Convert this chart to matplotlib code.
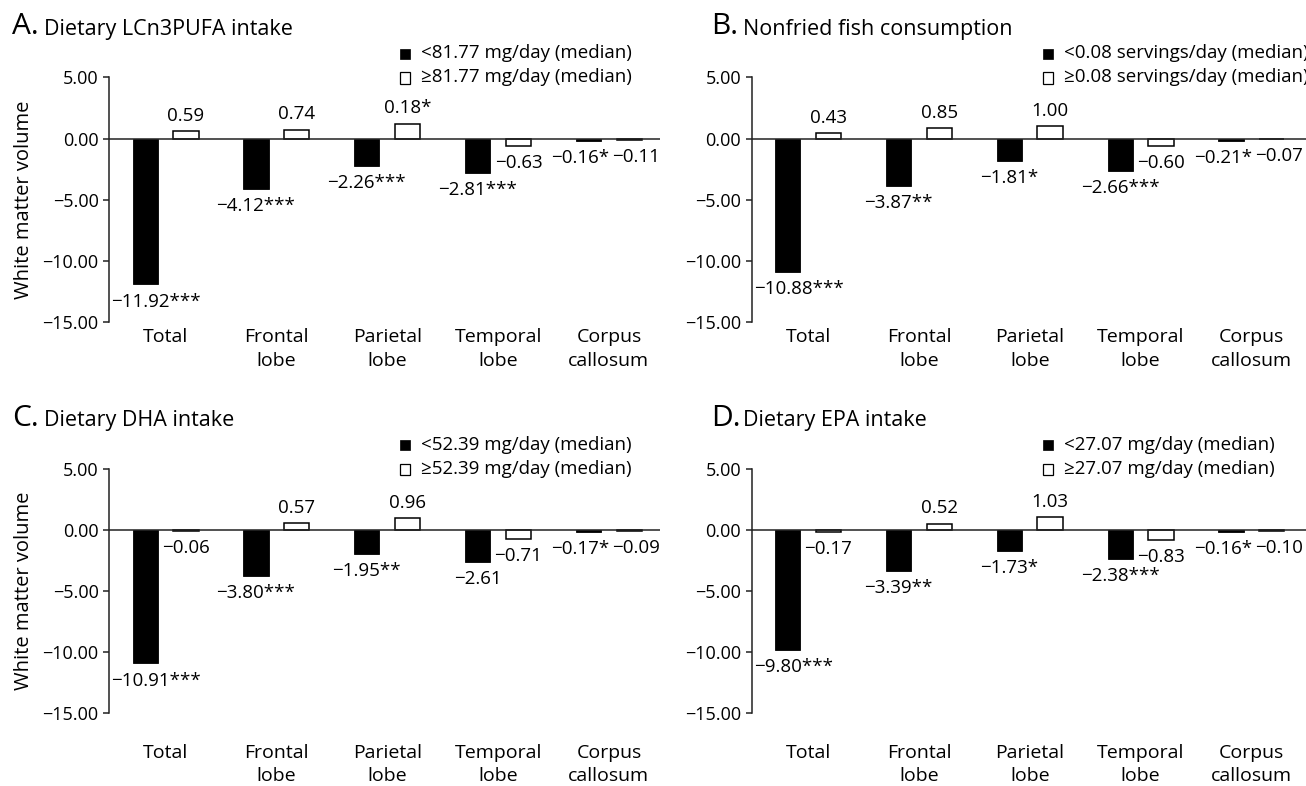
import matplotlib
matplotlib.use("Agg")
import matplotlib.pyplot as plt
from matplotlib.patches import Rectangle
import numpy as np

plt.rcParams["font.family"] = ["Open Sans", "DejaVu Sans"]

W, H, DPI = 1306, 786, 100

# ---------------- data ----------------
categories = ["Total", "Frontal\nlobe", "Parietal\nlobe", "Temporal\nlobe", "Corpus\ncallosum"]
y_ticks = [5, 0, -5, -10, -15]
y_tick_labels = ["5.00", "0.00", "\u22125.00", "\u221210.00", "\u221215.00"]

a_letter, a_title = "A.", "Dietary LCn3PUFA intake"
a_low = [-11.92, -4.12, -2.26, -2.81, -0.16]
a_high = [0.59, 0.74, 1.20, -0.63, -0.11]
a_low_labels = ["\u221211.92***", "\u22124.12***", "\u22122.26***", "\u22122.81***", "\u22120.16*"]
a_high_labels = ["0.59", "0.74", "0.18*", "\u22120.63", "\u22120.11"]
a_legend = ["<81.77 mg/day (median)", "\u226581.77 mg/day (median)"]

b_letter, b_title = "B.", "Nonfried fish consumption"
b_low = [-10.88, -3.87, -1.81, -2.66, -0.21]
b_high = [0.43, 0.85, 1.00, -0.60, -0.07]
b_low_labels = ["\u221210.88***", "\u22123.87**", "\u22121.81*", "\u22122.66***", "\u22120.21*"]
b_high_labels = ["0.43", "0.85", "1.00", "\u22120.60", "\u22120.07"]
b_legend = ["<0.08 servings/day (median)", "\u22650.08 servings/day (median)"]

c_letter, c_title = "C.", "Dietary DHA intake"
c_low = [-10.91, -3.80, -1.95, -2.61, -0.17]
c_high = [-0.06, 0.57, 0.96, -0.71, -0.09]
c_low_labels = ["\u221210.91***", "\u22123.80***", "\u22121.95**", "\u22122.61", "\u22120.17*"]
c_high_labels = ["\u22120.06", "0.57", "0.96", "\u22120.71", "\u22120.09"]
c_legend = ["<52.39 mg/day (median)", "\u226552.39 mg/day (median)"]

d_letter, d_title = "D.", "Dietary EPA intake"
d_low = [-9.80, -3.39, -1.73, -2.38, -0.16]
d_high = [-0.17, 0.52, 1.03, -0.83, -0.10]
d_low_labels = ["\u22129.80***", "\u22123.39**", "\u22121.73*", "\u22122.38***", "\u22120.16*"]
d_high_labels = ["\u22120.17", "0.52", "1.03", "\u22120.83", "\u22120.10"]
d_legend = ["<27.07 mg/day (median)", "\u226527.07 mg/day (median)"]

ylabel = "White matter volume"

# ---------------- layout helpers ----------------
fig = plt.figure(figsize=(W / DPI, H / DPI), dpi=DPI)
PT = 72.0 / DPI  # points per pixel


def fx(x):
    return x / W


def fy(y):
    return 1 - y / H


PXU = 110.85          # pixels per category unit
XL = -0.51
OFF, BW = 0.184, 0.228
FS_VAL = 13.5
FS_CAT = 14
FS_TICK = 13
FS_LEG = 13.5


def panel(left, right, top, bottom, title_x, letter, title, low, high, low_lab, high_lab,
          legend, xpad_px, lsp, show_ylabel):
    width = right - left
    xr = XL + width / PXU
    ax = fig.add_axes([fx(left), fy(bottom), width / W, (bottom - top) / H])
    x = np.arange(len(categories))
    ax.bar(x - OFF, low, width=BW, color="black", edgecolor="black", linewidth=0.6)
    ax.bar(x + OFF, high, width=BW, color="white", edgecolor="black", linewidth=1.1)
    ax.axhline(0, color="#222222", linewidth=1.1)
    ax.set_xlim(XL, xr)
    ax.set_ylim(-15, 5)
    for s in ("top", "right", "bottom"):
        ax.spines[s].set_visible(False)
    ax.spines["left"].set_linewidth(1.1)
    ax.spines["left"].set_color("#222222")
    ax.set_yticks(y_ticks)
    ax.set_yticklabels(y_tick_labels, fontsize=FS_TICK)
    ax.tick_params(axis="y", length=6 * PT, width=1.1, pad=4.5 * PT, color="#222222")
    ax.set_xticks(x)
    ax.set_xticklabels(categories, fontsize=FS_CAT)
    for t in ax.get_xticklabels():
        t.set_linespacing(lsp)
    ax.tick_params(axis="x", length=0, pad=xpad_px * PT)

    n = len(categories)
    for series, labs, sign in ((low, low_lab, -1), (high, high_lab, 1)):
        for i, (v, lab) in enumerate(zip(series, labs)):
            xpos = i + sign * OFF
            dx = 0
            if i == n - 1:
                dx = -8 if sign < 0 else 7
            if v >= 0:
                ax.annotate(lab, (xpos, v), xytext=(dx * PT, 10.5 * PT),
                            textcoords="offset points", ha="center", va="baseline",
                            fontsize=FS_VAL, annotation_clip=False)
            elif i == 0 and sign < 0:
                ax.annotate(lab, (XL, v), xytext=(2.5 * PT, -22.5 * PT),
                            textcoords="offset points", ha="left", va="baseline",
                            fontsize=FS_VAL, annotation_clip=False)
            else:
                ax.annotate(lab, (xpos, v), xytext=(dx * PT, -22 * PT),
                            textcoords="offset points", ha="center", va="baseline",
                            fontsize=FS_VAL, annotation_clip=False)

    # titles
    fig.text(fx(title_x), fy(top - 43), letter, fontsize=21.5, ha="left", va="baseline")
    fig.text(fx(title_x + 31.5), fy(top - 43), title, fontsize=15.5, ha="left", va="baseline")

    # legend
    lx = left + 291
    b1, b2 = top - 19, top + 5
    fig.patches.append(Rectangle((fx(lx), fy(b1)), 10.5 / W, 10 / H,
                                 transform=fig.transFigure, facecolor="black",
                                 edgecolor="black", linewidth=0.5))
    fig.patches.append(Rectangle((fx(lx), fy(b2 + 1)), 10.5 / W, 11 / H,
                                 transform=fig.transFigure, facecolor="white",
                                 edgecolor="black", linewidth=0.9))
    fig.text(fx(lx + 21), fy(b1), legend[0], fontsize=FS_LEG, ha="left", va="baseline")
    fig.text(fx(lx + 21), fy(b2), legend[1], fontsize=FS_LEG, ha="left", va="baseline")

    if show_ylabel:
        fig.text(fx(24), fy((top + bottom) / 2), ylabel, fontsize=14.5, rotation=90,
                 ha="center", va="center")
    return ax


panel(109, 660, 77.5, 322, 12.5, a_letter, a_title, a_low, a_high, a_low_labels,
      a_high_labels, a_legend, 6, 1.42, True)
panel(751.5, 1307, 77.5, 322, 711.5, b_letter, b_title, b_low, b_high, b_low_labels,
      b_high_labels, b_legend, 6, 1.42, False)
panel(109, 660, 469, 713, 12.5, c_letter, c_title, c_low, c_high, c_low_labels,
      c_high_labels, c_legend, 31, 1.34, True)
panel(751.5, 1307, 469, 713, 711.5, d_letter, d_title, d_low, d_high, d_low_labels,
      d_high_labels, d_legend, 31, 1.34, False)

fig.savefig("out.png", dpi=DPI)
